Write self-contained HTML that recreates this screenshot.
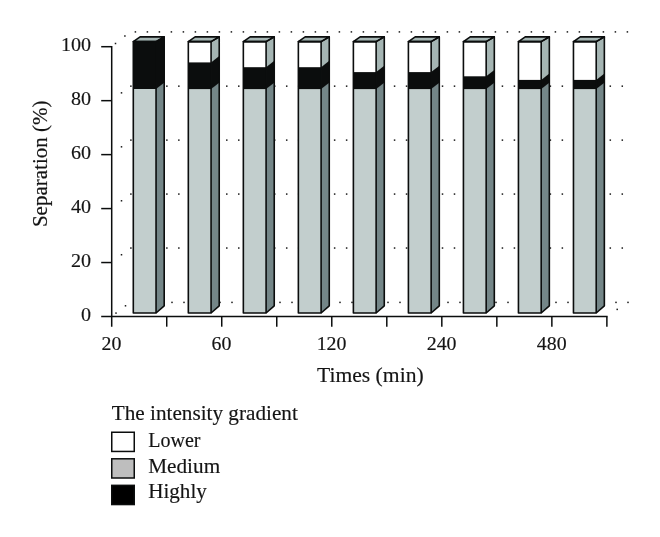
<!DOCTYPE html>
<html lang="en"><head><meta charset="utf-8"><title>Separation vs time</title>
<style>html,body{margin:0;padding:0;background:#fff}svg{display:block;will-change:transform}text{font-family:"Liberation Serif","DejaVu Serif",serif;fill:#141414;stroke:#141414;stroke-width:0.16px}</style></head><body>
<svg width="660" height="537" viewBox="0 0 660 537">
<g fill="#1a1a1a">
<rect x="114.75" y="42.75" width="1.5" height="1.5"/><rect x="124.15" y="35.25" width="1.5" height="1.5"/><rect x="134.65" y="31.15" width="1.5" height="1.5"/><rect x="146.65" y="31.15" width="1.5" height="1.5"/><rect x="158.65" y="31.15" width="1.5" height="1.5"/><rect x="170.65" y="31.15" width="1.5" height="1.5"/><rect x="182.65" y="31.15" width="1.5" height="1.5"/><rect x="194.65" y="31.15" width="1.5" height="1.5"/><rect x="206.65" y="31.15" width="1.5" height="1.5"/><rect x="218.65" y="31.15" width="1.5" height="1.5"/><rect x="230.65" y="31.15" width="1.5" height="1.5"/><rect x="242.65" y="31.15" width="1.5" height="1.5"/><rect x="254.65" y="31.15" width="1.5" height="1.5"/><rect x="266.65" y="31.15" width="1.5" height="1.5"/><rect x="278.65" y="31.15" width="1.5" height="1.5"/><rect x="290.65" y="31.15" width="1.5" height="1.5"/><rect x="302.65" y="31.15" width="1.5" height="1.5"/><rect x="314.65" y="31.15" width="1.5" height="1.5"/><rect x="326.65" y="31.15" width="1.5" height="1.5"/><rect x="338.65" y="31.15" width="1.5" height="1.5"/><rect x="350.65" y="31.15" width="1.5" height="1.5"/><rect x="362.65" y="31.15" width="1.5" height="1.5"/><rect x="374.65" y="31.15" width="1.5" height="1.5"/><rect x="386.65" y="31.15" width="1.5" height="1.5"/><rect x="398.65" y="31.15" width="1.5" height="1.5"/><rect x="410.65" y="31.15" width="1.5" height="1.5"/><rect x="422.65" y="31.15" width="1.5" height="1.5"/><rect x="434.65" y="31.15" width="1.5" height="1.5"/><rect x="446.65" y="31.15" width="1.5" height="1.5"/><rect x="458.65" y="31.15" width="1.5" height="1.5"/><rect x="470.65" y="31.15" width="1.5" height="1.5"/><rect x="482.65" y="31.15" width="1.5" height="1.5"/><rect x="494.65" y="31.15" width="1.5" height="1.5"/><rect x="506.65" y="31.15" width="1.5" height="1.5"/><rect x="518.65" y="31.15" width="1.5" height="1.5"/><rect x="530.65" y="31.15" width="1.5" height="1.5"/><rect x="542.65" y="31.15" width="1.5" height="1.5"/><rect x="554.65" y="31.15" width="1.5" height="1.5"/><rect x="566.65" y="31.15" width="1.5" height="1.5"/><rect x="578.65" y="31.15" width="1.5" height="1.5"/><rect x="590.65" y="31.15" width="1.5" height="1.5"/><rect x="602.65" y="31.15" width="1.5" height="1.5"/><rect x="614.65" y="31.15" width="1.5" height="1.5"/><rect x="626.65" y="31.15" width="1.5" height="1.5"/><rect x="120.75" y="92.11" width="1.5" height="1.5"/><rect x="130.15" y="85.41" width="1.5" height="1.5"/><rect x="142.13" y="85.41" width="1.5" height="1.5"/><rect x="154.12" y="85.41" width="1.5" height="1.5"/><rect x="166.11" y="85.41" width="1.5" height="1.5"/><rect x="178.09" y="85.41" width="1.5" height="1.5"/><rect x="190.07" y="85.41" width="1.5" height="1.5"/><rect x="202.06" y="85.41" width="1.5" height="1.5"/><rect x="214.05" y="85.41" width="1.5" height="1.5"/><rect x="226.03" y="85.41" width="1.5" height="1.5"/><rect x="238.01" y="85.41" width="1.5" height="1.5"/><rect x="250.00" y="85.41" width="1.5" height="1.5"/><rect x="261.99" y="85.41" width="1.5" height="1.5"/><rect x="273.97" y="85.41" width="1.5" height="1.5"/><rect x="285.96" y="85.41" width="1.5" height="1.5"/><rect x="297.94" y="85.41" width="1.5" height="1.5"/><rect x="309.92" y="85.41" width="1.5" height="1.5"/><rect x="321.91" y="85.41" width="1.5" height="1.5"/><rect x="333.89" y="85.41" width="1.5" height="1.5"/><rect x="345.88" y="85.41" width="1.5" height="1.5"/><rect x="357.87" y="85.41" width="1.5" height="1.5"/><rect x="369.85" y="85.41" width="1.5" height="1.5"/><rect x="381.84" y="85.41" width="1.5" height="1.5"/><rect x="393.82" y="85.41" width="1.5" height="1.5"/><rect x="405.80" y="85.41" width="1.5" height="1.5"/><rect x="417.79" y="85.41" width="1.5" height="1.5"/><rect x="429.77" y="85.41" width="1.5" height="1.5"/><rect x="441.76" y="85.41" width="1.5" height="1.5"/><rect x="453.75" y="85.41" width="1.5" height="1.5"/><rect x="465.73" y="85.41" width="1.5" height="1.5"/><rect x="477.72" y="85.41" width="1.5" height="1.5"/><rect x="489.70" y="85.41" width="1.5" height="1.5"/><rect x="501.68" y="85.41" width="1.5" height="1.5"/><rect x="513.67" y="85.41" width="1.5" height="1.5"/><rect x="525.65" y="85.41" width="1.5" height="1.5"/><rect x="537.64" y="85.41" width="1.5" height="1.5"/><rect x="549.62" y="85.41" width="1.5" height="1.5"/><rect x="561.61" y="85.41" width="1.5" height="1.5"/><rect x="573.60" y="85.41" width="1.5" height="1.5"/><rect x="585.58" y="85.41" width="1.5" height="1.5"/><rect x="597.56" y="85.41" width="1.5" height="1.5"/><rect x="609.55" y="85.41" width="1.5" height="1.5"/><rect x="621.53" y="85.41" width="1.5" height="1.5"/><rect x="120.75" y="146.07" width="1.5" height="1.5"/><rect x="130.15" y="139.37" width="1.5" height="1.5"/><rect x="142.13" y="139.37" width="1.5" height="1.5"/><rect x="154.12" y="139.37" width="1.5" height="1.5"/><rect x="166.11" y="139.37" width="1.5" height="1.5"/><rect x="178.09" y="139.37" width="1.5" height="1.5"/><rect x="190.07" y="139.37" width="1.5" height="1.5"/><rect x="202.06" y="139.37" width="1.5" height="1.5"/><rect x="214.05" y="139.37" width="1.5" height="1.5"/><rect x="226.03" y="139.37" width="1.5" height="1.5"/><rect x="238.01" y="139.37" width="1.5" height="1.5"/><rect x="250.00" y="139.37" width="1.5" height="1.5"/><rect x="261.99" y="139.37" width="1.5" height="1.5"/><rect x="273.97" y="139.37" width="1.5" height="1.5"/><rect x="285.96" y="139.37" width="1.5" height="1.5"/><rect x="297.94" y="139.37" width="1.5" height="1.5"/><rect x="309.92" y="139.37" width="1.5" height="1.5"/><rect x="321.91" y="139.37" width="1.5" height="1.5"/><rect x="333.89" y="139.37" width="1.5" height="1.5"/><rect x="345.88" y="139.37" width="1.5" height="1.5"/><rect x="357.87" y="139.37" width="1.5" height="1.5"/><rect x="369.85" y="139.37" width="1.5" height="1.5"/><rect x="381.84" y="139.37" width="1.5" height="1.5"/><rect x="393.82" y="139.37" width="1.5" height="1.5"/><rect x="405.80" y="139.37" width="1.5" height="1.5"/><rect x="417.79" y="139.37" width="1.5" height="1.5"/><rect x="429.77" y="139.37" width="1.5" height="1.5"/><rect x="441.76" y="139.37" width="1.5" height="1.5"/><rect x="453.75" y="139.37" width="1.5" height="1.5"/><rect x="465.73" y="139.37" width="1.5" height="1.5"/><rect x="477.72" y="139.37" width="1.5" height="1.5"/><rect x="489.70" y="139.37" width="1.5" height="1.5"/><rect x="501.68" y="139.37" width="1.5" height="1.5"/><rect x="513.67" y="139.37" width="1.5" height="1.5"/><rect x="525.65" y="139.37" width="1.5" height="1.5"/><rect x="537.64" y="139.37" width="1.5" height="1.5"/><rect x="549.62" y="139.37" width="1.5" height="1.5"/><rect x="561.61" y="139.37" width="1.5" height="1.5"/><rect x="573.60" y="139.37" width="1.5" height="1.5"/><rect x="585.58" y="139.37" width="1.5" height="1.5"/><rect x="597.56" y="139.37" width="1.5" height="1.5"/><rect x="609.55" y="139.37" width="1.5" height="1.5"/><rect x="621.53" y="139.37" width="1.5" height="1.5"/><rect x="120.75" y="200.03" width="1.5" height="1.5"/><rect x="130.15" y="193.33" width="1.5" height="1.5"/><rect x="142.13" y="193.33" width="1.5" height="1.5"/><rect x="154.12" y="193.33" width="1.5" height="1.5"/><rect x="166.11" y="193.33" width="1.5" height="1.5"/><rect x="178.09" y="193.33" width="1.5" height="1.5"/><rect x="190.07" y="193.33" width="1.5" height="1.5"/><rect x="202.06" y="193.33" width="1.5" height="1.5"/><rect x="214.05" y="193.33" width="1.5" height="1.5"/><rect x="226.03" y="193.33" width="1.5" height="1.5"/><rect x="238.01" y="193.33" width="1.5" height="1.5"/><rect x="250.00" y="193.33" width="1.5" height="1.5"/><rect x="261.99" y="193.33" width="1.5" height="1.5"/><rect x="273.97" y="193.33" width="1.5" height="1.5"/><rect x="285.96" y="193.33" width="1.5" height="1.5"/><rect x="297.94" y="193.33" width="1.5" height="1.5"/><rect x="309.92" y="193.33" width="1.5" height="1.5"/><rect x="321.91" y="193.33" width="1.5" height="1.5"/><rect x="333.89" y="193.33" width="1.5" height="1.5"/><rect x="345.88" y="193.33" width="1.5" height="1.5"/><rect x="357.87" y="193.33" width="1.5" height="1.5"/><rect x="369.85" y="193.33" width="1.5" height="1.5"/><rect x="381.84" y="193.33" width="1.5" height="1.5"/><rect x="393.82" y="193.33" width="1.5" height="1.5"/><rect x="405.80" y="193.33" width="1.5" height="1.5"/><rect x="417.79" y="193.33" width="1.5" height="1.5"/><rect x="429.77" y="193.33" width="1.5" height="1.5"/><rect x="441.76" y="193.33" width="1.5" height="1.5"/><rect x="453.75" y="193.33" width="1.5" height="1.5"/><rect x="465.73" y="193.33" width="1.5" height="1.5"/><rect x="477.72" y="193.33" width="1.5" height="1.5"/><rect x="489.70" y="193.33" width="1.5" height="1.5"/><rect x="501.68" y="193.33" width="1.5" height="1.5"/><rect x="513.67" y="193.33" width="1.5" height="1.5"/><rect x="525.65" y="193.33" width="1.5" height="1.5"/><rect x="537.64" y="193.33" width="1.5" height="1.5"/><rect x="549.62" y="193.33" width="1.5" height="1.5"/><rect x="561.61" y="193.33" width="1.5" height="1.5"/><rect x="573.60" y="193.33" width="1.5" height="1.5"/><rect x="585.58" y="193.33" width="1.5" height="1.5"/><rect x="597.56" y="193.33" width="1.5" height="1.5"/><rect x="609.55" y="193.33" width="1.5" height="1.5"/><rect x="621.53" y="193.33" width="1.5" height="1.5"/><rect x="120.75" y="253.99" width="1.5" height="1.5"/><rect x="130.15" y="247.29" width="1.5" height="1.5"/><rect x="142.13" y="247.29" width="1.5" height="1.5"/><rect x="154.12" y="247.29" width="1.5" height="1.5"/><rect x="166.11" y="247.29" width="1.5" height="1.5"/><rect x="178.09" y="247.29" width="1.5" height="1.5"/><rect x="190.07" y="247.29" width="1.5" height="1.5"/><rect x="202.06" y="247.29" width="1.5" height="1.5"/><rect x="214.05" y="247.29" width="1.5" height="1.5"/><rect x="226.03" y="247.29" width="1.5" height="1.5"/><rect x="238.01" y="247.29" width="1.5" height="1.5"/><rect x="250.00" y="247.29" width="1.5" height="1.5"/><rect x="261.99" y="247.29" width="1.5" height="1.5"/><rect x="273.97" y="247.29" width="1.5" height="1.5"/><rect x="285.96" y="247.29" width="1.5" height="1.5"/><rect x="297.94" y="247.29" width="1.5" height="1.5"/><rect x="309.92" y="247.29" width="1.5" height="1.5"/><rect x="321.91" y="247.29" width="1.5" height="1.5"/><rect x="333.89" y="247.29" width="1.5" height="1.5"/><rect x="345.88" y="247.29" width="1.5" height="1.5"/><rect x="357.87" y="247.29" width="1.5" height="1.5"/><rect x="369.85" y="247.29" width="1.5" height="1.5"/><rect x="381.84" y="247.29" width="1.5" height="1.5"/><rect x="393.82" y="247.29" width="1.5" height="1.5"/><rect x="405.80" y="247.29" width="1.5" height="1.5"/><rect x="417.79" y="247.29" width="1.5" height="1.5"/><rect x="429.77" y="247.29" width="1.5" height="1.5"/><rect x="441.76" y="247.29" width="1.5" height="1.5"/><rect x="453.75" y="247.29" width="1.5" height="1.5"/><rect x="465.73" y="247.29" width="1.5" height="1.5"/><rect x="477.72" y="247.29" width="1.5" height="1.5"/><rect x="489.70" y="247.29" width="1.5" height="1.5"/><rect x="501.68" y="247.29" width="1.5" height="1.5"/><rect x="513.67" y="247.29" width="1.5" height="1.5"/><rect x="525.65" y="247.29" width="1.5" height="1.5"/><rect x="537.64" y="247.29" width="1.5" height="1.5"/><rect x="549.62" y="247.29" width="1.5" height="1.5"/><rect x="561.61" y="247.29" width="1.5" height="1.5"/><rect x="573.60" y="247.29" width="1.5" height="1.5"/><rect x="585.58" y="247.29" width="1.5" height="1.5"/><rect x="597.56" y="247.29" width="1.5" height="1.5"/><rect x="609.55" y="247.29" width="1.5" height="1.5"/><rect x="621.53" y="247.29" width="1.5" height="1.5"/><rect x="115.25" y="312.35" width="1.5" height="1.5"/><rect x="124.75" y="305.05" width="1.5" height="1.5"/><rect x="616.45" y="308.65" width="1.5" height="1.5"/><rect x="135.25" y="301.65" width="1.5" height="1.5"/><rect x="147.25" y="301.65" width="1.5" height="1.5"/><rect x="159.25" y="301.65" width="1.5" height="1.5"/><rect x="171.25" y="301.65" width="1.5" height="1.5"/><rect x="183.25" y="301.65" width="1.5" height="1.5"/><rect x="195.25" y="301.65" width="1.5" height="1.5"/><rect x="207.25" y="301.65" width="1.5" height="1.5"/><rect x="219.25" y="301.65" width="1.5" height="1.5"/><rect x="231.25" y="301.65" width="1.5" height="1.5"/><rect x="243.25" y="301.65" width="1.5" height="1.5"/><rect x="255.25" y="301.65" width="1.5" height="1.5"/><rect x="267.25" y="301.65" width="1.5" height="1.5"/><rect x="279.25" y="301.65" width="1.5" height="1.5"/><rect x="291.25" y="301.65" width="1.5" height="1.5"/><rect x="303.25" y="301.65" width="1.5" height="1.5"/><rect x="315.25" y="301.65" width="1.5" height="1.5"/><rect x="327.25" y="301.65" width="1.5" height="1.5"/><rect x="339.25" y="301.65" width="1.5" height="1.5"/><rect x="351.25" y="301.65" width="1.5" height="1.5"/><rect x="363.25" y="301.65" width="1.5" height="1.5"/><rect x="375.25" y="301.65" width="1.5" height="1.5"/><rect x="387.25" y="301.65" width="1.5" height="1.5"/><rect x="399.25" y="301.65" width="1.5" height="1.5"/><rect x="411.25" y="301.65" width="1.5" height="1.5"/><rect x="423.25" y="301.65" width="1.5" height="1.5"/><rect x="435.25" y="301.65" width="1.5" height="1.5"/><rect x="447.25" y="301.65" width="1.5" height="1.5"/><rect x="459.25" y="301.65" width="1.5" height="1.5"/><rect x="471.25" y="301.65" width="1.5" height="1.5"/><rect x="483.25" y="301.65" width="1.5" height="1.5"/><rect x="495.25" y="301.65" width="1.5" height="1.5"/><rect x="507.25" y="301.65" width="1.5" height="1.5"/><rect x="519.25" y="301.65" width="1.5" height="1.5"/><rect x="531.25" y="301.65" width="1.5" height="1.5"/><rect x="543.25" y="301.65" width="1.5" height="1.5"/><rect x="555.25" y="301.65" width="1.5" height="1.5"/><rect x="567.25" y="301.65" width="1.5" height="1.5"/><rect x="579.25" y="301.65" width="1.5" height="1.5"/><rect x="591.25" y="301.65" width="1.5" height="1.5"/><rect x="603.25" y="301.65" width="1.5" height="1.5"/><rect x="615.25" y="301.65" width="1.5" height="1.5"/><rect x="627.25" y="301.65" width="1.5" height="1.5"/>
</g>
<g stroke="#0b0d0d" stroke-width="1.5" fill="none">
<path d="M111.7,46 V326.7"/>
<path d="M101.2,316.6 H607.6"/>
<path d="M101.2,262.54 H111.7"/>
<path d="M101.2,208.58 H111.7"/>
<path d="M101.2,154.62 H111.7"/>
<path d="M101.2,100.66 H111.7"/>
<path d="M101.2,46.70 H111.7"/>
<path d="M166.72,316.6 V326.7"/>
<path d="M221.74,316.6 V326.7"/>
<path d="M276.76,316.6 V326.7"/>
<path d="M331.78,316.6 V326.7"/>
<path d="M386.80,316.6 V326.7"/>
<path d="M441.82,316.6 V326.7"/>
<path d="M496.84,316.6 V326.7"/>
<path d="M551.86,316.6 V326.7"/>
<path d="M606.88,316.6 V326.7"/>
</g>
<g stroke="#0b0d0d" stroke-width="1.6" stroke-linejoin="round">
<path d="M133.30,88.50 H156.05 V313.00 H133.30 Z" fill="#c2cecd" stroke="none"/>
<path d="M156.05,88.50 L164.20,82.10 V305.80 L156.05,313.00 Z" fill="#748688" stroke="none"/>
<path d="M133.30,41.60 H156.05 V89.10 H133.30 Z" fill="#0b0d0d" stroke="none"/>
<path d="M156.05,41.60 L164.20,36.90 V82.70 L156.05,89.10 Z" fill="#0b0d0d" stroke="none"/>
<path d="M133.30,41.6 L140.10,36.90 H164.20 L156.05,41.6 Z" fill="#a6b6b4"/>
<path d="M133.30,41.6 H156.05 V313.0 H133.30 Z" fill="none"/>
<path d="M156.05,41.6 L164.20,36.90 V305.80 L156.05,313.0" fill="none"/>
<path d="M188.32,88.50 H211.07 V313.00 H188.32 Z" fill="#c2cecd" stroke="none"/>
<path d="M211.07,88.50 L219.22,82.10 V305.80 L211.07,313.00 Z" fill="#748688" stroke="none"/>
<path d="M188.32,41.60 H211.07 V63.00 H188.32 Z" fill="#fff" stroke="none"/>
<path d="M211.07,41.60 L219.22,36.90 V56.60 L211.07,63.00 Z" fill="#a5b5b3" stroke="none"/>
<path d="M188.32,62.40 H211.07 V89.10 H188.32 Z" fill="#0b0d0d" stroke="none"/>
<path d="M211.07,62.40 L219.22,56.00 V82.70 L211.07,89.10 Z" fill="#0b0d0d" stroke="none"/>
<path d="M188.32,41.6 L195.12,36.90 H219.22 L211.07,41.6 Z" fill="#a6b6b4"/>
<path d="M188.32,41.6 H211.07 V313.0 H188.32 Z" fill="none"/>
<path d="M211.07,41.6 L219.22,36.90 V305.80 L211.07,313.0" fill="none"/>
<path d="M243.34,88.50 H266.09 V313.00 H243.34 Z" fill="#c2cecd" stroke="none"/>
<path d="M266.09,88.50 L274.24,82.10 V305.80 L266.09,313.00 Z" fill="#748688" stroke="none"/>
<path d="M243.34,41.60 H266.09 V67.80 H243.34 Z" fill="#fff" stroke="none"/>
<path d="M266.09,41.60 L274.24,36.90 V61.40 L266.09,67.80 Z" fill="#a5b5b3" stroke="none"/>
<path d="M243.34,67.20 H266.09 V89.10 H243.34 Z" fill="#0b0d0d" stroke="none"/>
<path d="M266.09,67.20 L274.24,60.80 V82.70 L266.09,89.10 Z" fill="#0b0d0d" stroke="none"/>
<path d="M243.34,41.6 L250.14,36.90 H274.24 L266.09,41.6 Z" fill="#a6b6b4"/>
<path d="M243.34,41.6 H266.09 V313.0 H243.34 Z" fill="none"/>
<path d="M266.09,41.6 L274.24,36.90 V305.80 L266.09,313.0" fill="none"/>
<path d="M298.36,88.50 H321.11 V313.00 H298.36 Z" fill="#c2cecd" stroke="none"/>
<path d="M321.11,88.50 L329.26,82.10 V305.80 L321.11,313.00 Z" fill="#748688" stroke="none"/>
<path d="M298.36,41.60 H321.11 V67.80 H298.36 Z" fill="#fff" stroke="none"/>
<path d="M321.11,41.60 L329.26,36.90 V61.40 L321.11,67.80 Z" fill="#a5b5b3" stroke="none"/>
<path d="M298.36,67.20 H321.11 V89.10 H298.36 Z" fill="#0b0d0d" stroke="none"/>
<path d="M321.11,67.20 L329.26,60.80 V82.70 L321.11,89.10 Z" fill="#0b0d0d" stroke="none"/>
<path d="M298.36,41.6 L305.16,36.90 H329.26 L321.11,41.6 Z" fill="#a6b6b4"/>
<path d="M298.36,41.6 H321.11 V313.0 H298.36 Z" fill="none"/>
<path d="M321.11,41.6 L329.26,36.90 V305.80 L321.11,313.0" fill="none"/>
<path d="M353.38,88.50 H376.13 V313.00 H353.38 Z" fill="#c2cecd" stroke="none"/>
<path d="M376.13,88.50 L384.28,82.10 V305.80 L376.13,313.00 Z" fill="#748688" stroke="none"/>
<path d="M353.38,41.60 H376.13 V72.70 H353.38 Z" fill="#fff" stroke="none"/>
<path d="M376.13,41.60 L384.28,36.90 V66.30 L376.13,72.70 Z" fill="#a5b5b3" stroke="none"/>
<path d="M353.38,72.10 H376.13 V89.10 H353.38 Z" fill="#0b0d0d" stroke="none"/>
<path d="M376.13,72.10 L384.28,65.70 V82.70 L376.13,89.10 Z" fill="#0b0d0d" stroke="none"/>
<path d="M353.38,41.6 L360.18,36.90 H384.28 L376.13,41.6 Z" fill="#a6b6b4"/>
<path d="M353.38,41.6 H376.13 V313.0 H353.38 Z" fill="none"/>
<path d="M376.13,41.6 L384.28,36.90 V305.80 L376.13,313.0" fill="none"/>
<path d="M408.40,88.50 H431.15 V313.00 H408.40 Z" fill="#c2cecd" stroke="none"/>
<path d="M431.15,88.50 L439.30,82.10 V305.80 L431.15,313.00 Z" fill="#748688" stroke="none"/>
<path d="M408.40,41.60 H431.15 V72.70 H408.40 Z" fill="#fff" stroke="none"/>
<path d="M431.15,41.60 L439.30,36.90 V66.30 L431.15,72.70 Z" fill="#a5b5b3" stroke="none"/>
<path d="M408.40,72.10 H431.15 V89.10 H408.40 Z" fill="#0b0d0d" stroke="none"/>
<path d="M431.15,72.10 L439.30,65.70 V82.70 L431.15,89.10 Z" fill="#0b0d0d" stroke="none"/>
<path d="M408.40,41.6 L415.20,36.90 H439.30 L431.15,41.6 Z" fill="#a6b6b4"/>
<path d="M408.40,41.6 H431.15 V313.0 H408.40 Z" fill="none"/>
<path d="M431.15,41.6 L439.30,36.90 V305.80 L431.15,313.0" fill="none"/>
<path d="M463.42,88.50 H486.17 V313.00 H463.42 Z" fill="#c2cecd" stroke="none"/>
<path d="M486.17,88.50 L494.32,82.10 V305.80 L486.17,313.00 Z" fill="#748688" stroke="none"/>
<path d="M463.42,41.60 H486.17 V76.90 H463.42 Z" fill="#fff" stroke="none"/>
<path d="M486.17,41.60 L494.32,36.90 V70.50 L486.17,76.90 Z" fill="#a5b5b3" stroke="none"/>
<path d="M463.42,76.30 H486.17 V89.10 H463.42 Z" fill="#0b0d0d" stroke="none"/>
<path d="M486.17,76.30 L494.32,69.90 V82.70 L486.17,89.10 Z" fill="#0b0d0d" stroke="none"/>
<path d="M463.42,41.6 L470.22,36.90 H494.32 L486.17,41.6 Z" fill="#a6b6b4"/>
<path d="M463.42,41.6 H486.17 V313.0 H463.42 Z" fill="none"/>
<path d="M486.17,41.6 L494.32,36.90 V305.80 L486.17,313.0" fill="none"/>
<path d="M518.44,88.50 H541.19 V313.00 H518.44 Z" fill="#c2cecd" stroke="none"/>
<path d="M541.19,88.50 L549.34,82.10 V305.80 L541.19,313.00 Z" fill="#748688" stroke="none"/>
<path d="M518.44,41.60 H541.19 V80.50 H518.44 Z" fill="#fff" stroke="none"/>
<path d="M541.19,41.60 L549.34,36.90 V74.10 L541.19,80.50 Z" fill="#a5b5b3" stroke="none"/>
<path d="M518.44,79.90 H541.19 V89.10 H518.44 Z" fill="#0b0d0d" stroke="none"/>
<path d="M541.19,79.90 L549.34,73.50 V82.70 L541.19,89.10 Z" fill="#0b0d0d" stroke="none"/>
<path d="M518.44,41.6 L525.24,36.90 H549.34 L541.19,41.6 Z" fill="#a6b6b4"/>
<path d="M518.44,41.6 H541.19 V313.0 H518.44 Z" fill="none"/>
<path d="M541.19,41.6 L549.34,36.90 V305.80 L541.19,313.0" fill="none"/>
<path d="M573.46,88.50 H596.21 V313.00 H573.46 Z" fill="#c2cecd" stroke="none"/>
<path d="M596.21,88.50 L604.36,82.10 V305.80 L596.21,313.00 Z" fill="#748688" stroke="none"/>
<path d="M573.46,41.60 H596.21 V80.50 H573.46 Z" fill="#fff" stroke="none"/>
<path d="M596.21,41.60 L604.36,36.90 V74.10 L596.21,80.50 Z" fill="#a5b5b3" stroke="none"/>
<path d="M573.46,79.90 H596.21 V89.10 H573.46 Z" fill="#0b0d0d" stroke="none"/>
<path d="M596.21,79.90 L604.36,73.50 V82.70 L596.21,89.10 Z" fill="#0b0d0d" stroke="none"/>
<path d="M573.46,41.6 L580.26,36.90 H604.36 L596.21,41.6 Z" fill="#a6b6b4"/>
<path d="M573.46,41.6 H596.21 V313.0 H573.46 Z" fill="none"/>
<path d="M596.21,41.6 L604.36,36.90 V305.80 L596.21,313.0" fill="none"/>
</g>
<text transform="translate(91.0,321.2) scale(1.03,1)" font-size="19.5" text-anchor="end">0</text>
<text transform="translate(91.0,267.24) scale(1.03,1)" font-size="19.5" text-anchor="end">20</text>
<text transform="translate(91.0,213.27999999999997) scale(1.03,1)" font-size="19.5" text-anchor="end">40</text>
<text transform="translate(91.0,159.32) scale(1.03,1)" font-size="19.5" text-anchor="end">60</text>
<text transform="translate(91.0,105.36) scale(1.03,1)" font-size="19.5" text-anchor="end">80</text>
<text transform="translate(91.0,51.39999999999999) scale(1.03,1)" font-size="19.5" text-anchor="end">100</text>
<text transform="translate(111.5,350.3) scale(1.02,1)" font-size="19.5" text-anchor="middle">20</text>
<text transform="translate(221.54000000000002,350.3) scale(1.02,1)" font-size="19.5" text-anchor="middle">60</text>
<text transform="translate(331.58000000000004,350.3) scale(1.02,1)" font-size="19.5" text-anchor="middle">120</text>
<text transform="translate(441.62,350.3) scale(1.02,1)" font-size="19.5" text-anchor="middle">240</text>
<text transform="translate(551.6600000000001,350.3) scale(1.02,1)" font-size="19.5" text-anchor="middle">480</text>
<text transform="translate(370.3,382) scale(1.03,1)" font-size="21" text-anchor="middle">Times (min)</text>
<text transform="translate(47.2,163.8) rotate(-90)" font-size="21" text-anchor="middle">Separation (%)</text>
<text transform="translate(111.8,420) scale(1.01,1)" font-size="21" text-anchor="start">The intensity gradient</text>
<rect x="111.75" y="432.25" width="22.5" height="19.2" fill="#fff" stroke="#0b0d0d" stroke-width="1.5"/>
<text transform="translate(148.2,446.8) scale(0.955,1)" font-size="21" text-anchor="start">Lower</text>
<rect x="111.75" y="458.80" width="22.5" height="19.2" fill="#bebebe" stroke="#0b0d0d" stroke-width="1.5"/>
<text transform="translate(148.2,472.6) scale(1.012,1)" font-size="21" text-anchor="start">Medium</text>
<rect x="111.75" y="485.35" width="22.5" height="19.2" fill="#000" stroke="#0b0d0d" stroke-width="1.5"/>
<text transform="translate(148.2,498.40000000000003) scale(1.005,1)" font-size="21" text-anchor="start">Highly</text>
</svg></body></html>
